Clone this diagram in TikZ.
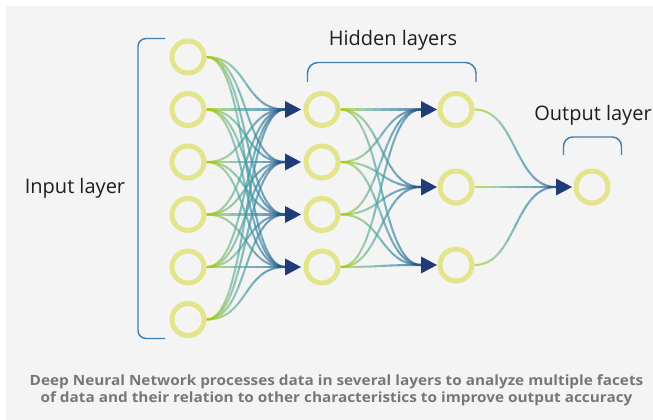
\documentclass[tikz,border=0pt]{standalone}
\usepackage{fontspec}
\setmainfont{Open Sans}
\newfontfamily\capfont[FakeStretch=1.085]{Open Sans}
\usetikzlibrary{calc}
\definecolor{bgc}{HTML}{F4F4F4}
\definecolor{ringc}{HTML}{E4E48C}
\definecolor{navyc}{HTML}{1F3C78}
\definecolor{brkc}{HTML}{3F7FAF}
\definecolor{capc}{HTML}{777777}
\definecolor{txtc}{HTML}{1E1E1E}
\colorlet{strokec}{teal}
\pgfdeclarelayer{back}
\pgfdeclarelayer{bg}
\pgfsetlayers{back,bg,main}
\tikzset{
  neuron/.style={circle, draw=ringc, line width=3.75pt, minimum size=24pt, inner sep=0pt},
  conn/.style={draw=strokec, line width=1.55pt, draw opacity=0.68},
  brk/.style={draw=brkc, line width=1.1pt},
  lbl/.style={text=txtc, font=\fontsize{15}{17}\selectfont, inner sep=0pt},
  capt/.style={text=capc, font=\capfont\bfseries\fontsize{10.6}{12.75}\selectfont, inner sep=0pt, anchor=base}
}
\newcommand\gradband[3]{%
  \foreach \k/\col in {1/A4CC10,2/96C640,3/7EBA78,4/66AE94,5/50A2A0,6/4096A4,7/3889A2,8/327A9C,9/2C6A92,10/275A86}{%
    \pgfmathsetmacro\xa{#1+(\k-1)*(#2-#1)/10-(\k==1)*12}%
    \pgfmathsetmacro\xb{#1+\k*(#2-#1)/10+(\k==10)*12}%
    \definecolor{strokec}{HTML}{\col}%
    \begin{scope}
      \clip (\xa,0) rectangle (\xb,420);
      #3
    \end{scope}
  }}
\newcommand\arrowhead[1]{\fill[navyc] ($(#1)+(0,-8.5)$) -- ($(#1)+(16,0)$) -- ($(#1)+(0,8.5)$) -- cycle;}
\newcommand\inconn{\foreach \i in {1,...,6}{\foreach \j in {1,...,4}{\draw[conn] (i\i.east) .. controls +(42,0) and +(-42,0) .. (p\j);}}}
\newcommand\midconn{\foreach \i in {1,...,4}{\foreach \j in {1,...,3}{\draw[conn] (h\i.east) .. controls +(42,0) and +(-42,0) .. (q\j);}}}
\newcommand\outconn{\foreach \i in {1,...,3}{\draw[conn] (g\i.east) .. controls +(42,0) and +(-42,0) .. (r);}}
\begin{document}
\begin{tikzpicture}[x=0.75pt,y=-0.75pt]
\useasboundingbox (0,0) rectangle (653,420);
\begin{pgfonlayer}{back}
\fill[white] (0,0) rectangle (653,420);
\fill[bgc] (6,6) rectangle (653,420);
\end{pgfonlayer}
% nodes
\foreach \n/\y in {1/57,2/109.5,3/162,4/214.5,5/267,6/319.5} \node[neuron] (i\n) at (188,\y) {};
\foreach \n/\y in {1/109.5,2/162,3/214.5,4/267} \node[neuron] (h\n) at (322,\y) {};
\foreach \n/\y in {1/109.5,2/187,3/265} \node[neuron] (g\n) at (456,\y) {};
\node[neuron] (o) at (592,187) {};
% arrow bases
\foreach \n in {1,...,4} \coordinate (p\n) at ($(h\n.center)+(-37,0)$);
\foreach \n in {1,...,3} \coordinate (q\n) at ($(g\n.center)+(-35,0)$);
\coordinate (r) at ($(o.center)+(-36,0)$);
% connectors
\begin{pgfonlayer}{bg}
\gradband{206}{285}{\inconn}
\gradband{340}{421}{\midconn}
\gradband{474}{556}{\outconn}
\end{pgfonlayer}
\foreach \n in {1,...,4} {\arrowhead{p\n}}
\foreach \n in {1,...,3} {\arrowhead{q\n}}
\arrowhead{r}
% brackets
\draw[brk, rounded corners=6] (165,38.5) -- (138,38.5) -- (138,338.5) -- (165,338.5);
\draw[brk, rounded corners=8] (307.5,82) -- (307.5,62.5) -- (476,62.5) -- (476,82);
\draw[brk, rounded corners=7] (563.5,155) -- (563.5,137) -- (621.5,137) -- (621.5,155);
% labels
\node[lbl] (tin) at (75,188) {Input layer};
\node[lbl] (thid) at (393,40) {Hidden layers};
\node[lbl] (tout) at (593,115) {Output layer};
\node[capt] (cap1) at (336.5,385) {Deep Neural Network processes data in several layers to analyze multiple facets};
\node[capt] (cap2) at (336.5,402) {of data and their relation to other characteristics to improve output accuracy};
\end{tikzpicture}
\end{document}
